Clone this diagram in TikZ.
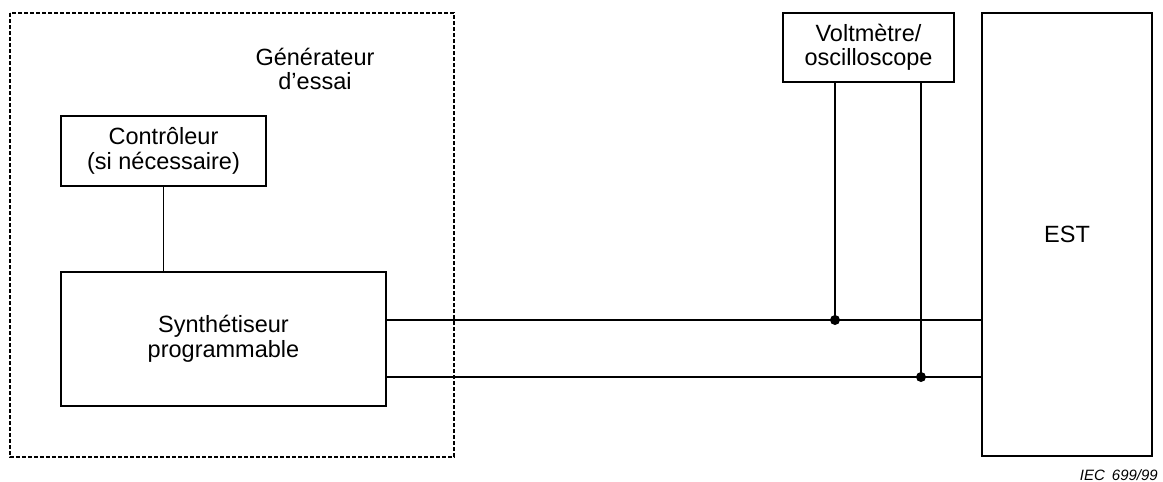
\documentclass[tikz,border=0pt]{standalone}
\usepackage{fontspec}
\setmainfont{Liberation Sans}
\begin{document}
\begin{tikzpicture}[x=1pt,y=-1pt,
  every node/.style={font=\fontsize{23.5}{24.5}\selectfont},
  blk/.style={draw,line width=1.4pt,rectangle,inner sep=0pt,align=center},
  wire/.style={line width=1.4pt},
  dotnode/.style={circle,fill=black,inner sep=0pt,minimum size=10pt}]
\useasboundingbox (0,0) rectangle (1163,482);
\fill[white] (0,0) rectangle (1163,482);
% dashed generator frame
\draw[line width=1.5pt,dash pattern=on 4pt off 2pt] (10,13) rectangle (454,457);
\node[align=center] (gen) at (315,69) {Générateur\\d’essai};
% blocks
\node[blk,minimum width=205pt,minimum height=70pt] (ctrl) at (163.5,151) {Contrôleur\\(si nécessaire)};
\node[blk,minimum width=325pt,minimum height=134pt] (synth) at (223.5,339) {Synthétiseur\\programmable};
\node[blk,minimum width=171pt,minimum height=69pt] (volt) at (868.5,47.5) {Voltmètre/\\oscilloscope};
\node[blk,minimum width=170pt,minimum height=443pt] (est) at (1067,234.5) {EST};
% junctions
\node[dotnode] (d1) at (835,320) {};
\node[dotnode] (d2) at (921,377) {};
% connectors
\draw[wire] (ctrl.south) -- (synth.north -| ctrl.south);
\draw[wire] (synth.east |- d1) -- (est.west |- d1);
\draw[wire] (synth.east |- d2) -- (est.west |- d2);
\draw[wire] (volt.south -| d1) -- (d1.center);
\draw[wire] (volt.south -| d2) -- (d2.center);
% label
\node[anchor=base east,inner sep=0pt,font=\fontsize{15}{17}\selectfont\itshape] (iec) at (1158,480) {IEC\hspace{7pt}699/99};
\end{tikzpicture}
\end{document}
